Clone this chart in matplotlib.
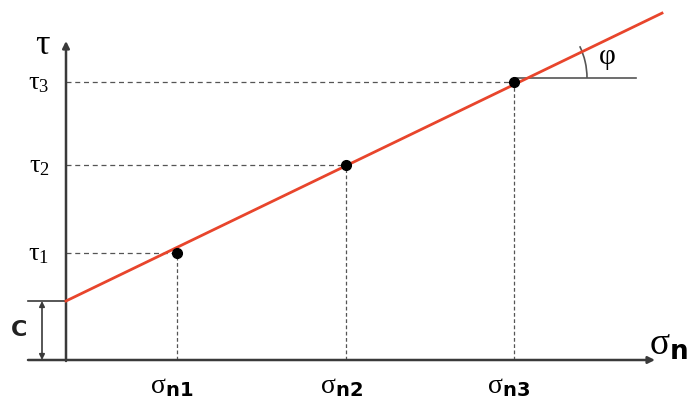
import numpy as np
import matplotlib
matplotlib.use('Agg')
import matplotlib.pyplot as plt
from matplotlib.patches import Arc

# --- Daten --- #
sigma_n = [1.11, 2.80, 4.48]        # Normalspannungen
tau = [1.07, 1.95, 2.78]            # Scherspannungen
cohesion = 0.59                     # Kohäsion c (Achsenabschnitt)
tan_phi = 0.483                     # Steigung der Bruchgeraden
sigma_end = 5.96                    # Ende der roten Geraden
sigma_labels = [r'$\mathrm{\sigma}_{\mathsf{n1}}$', r'$\mathrm{\sigma}_{\mathsf{n2}}$',
                r'$\mathrm{\sigma}_{\mathsf{n3}}$']
tau_labels = [r'$\mathrm{\tau}_{\mathrm{1}}$', r'$\mathrm{\tau}_{\mathrm{2}}$', r'$\mathrm{\tau}_{\mathrm{3}}$']

plt.rcParams['mathtext.fontset'] = 'custom'
plt.rcParams['mathtext.rm'] = 'Liberation Serif'
plt.rcParams['mathtext.it'] = 'Liberation Serif'
plt.rcParams['mathtext.sf'] = 'DejaVu Sans:bold'

fig = plt.figure(figsize=(6.91, 4.05), dpi=100)
ax = fig.add_axes([0, 0, 1, 1])
ax.set_xlim(-0.66, 6.25)
ax.set_ylim(-0.45, 3.60)
ax.axis('off')

axis_col = '#3a3a3a'
dash_col = '#555555'

# Achsen mit Pfeilen
ax.annotate('', xy=(5.89, 0), xytext=(-0.38, 0),
            arrowprops=dict(arrowstyle='-|>', color=axis_col, lw=1.8, mutation_scale=10, shrinkA=0, shrinkB=0))
ax.annotate('', xy=(0, 3.19), xytext=(0, -0.01),
            arrowprops=dict(arrowstyle='-|>', color=axis_col, lw=1.8, mutation_scale=10, shrinkA=0, shrinkB=0))

# Hilfslinien gestrichelt
for s, t in zip(sigma_n, tau):
    ax.plot([0, s], [t, t], '--', color=dash_col, lw=0.9, dashes=(4, 3))
    ax.plot([s, s], [0, t], '--', color=dash_col, lw=0.9, dashes=(3, 2))

# Bruchgerade
x_line = np.array([0, sigma_end])
ax.plot(x_line, cohesion + tan_phi * x_line, color='#e8452c', lw=2.0, zorder=3)

# Messpunkte
ax.plot(sigma_n, tau, 'o', color='black', markersize=7, zorder=4)

# Winkel phi
ax.plot([sigma_n[2], sigma_n[2] + 1.22], [tau[2] + 0.04, tau[2] + 0.04], color='#555555', lw=1.2)
phi_deg = np.degrees(np.arctan(tan_phi))
ax.add_patch(Arc((sigma_n[2], tau[2] + 0.04), 1.46, 1.46, theta1=0, theta2=phi_deg,
                 color='#555555', lw=1.2))
ax.text(sigma_n[2] + 0.93, tau[2] + 0.25, 'φ', fontsize=21, family='Liberation Serif',
        ha='center', va='center')

# Kohäsion c
ax.plot([-0.38, 0], [cohesion, cohesion], color=axis_col, lw=1.2)
ax.annotate('', xy=(-0.24, cohesion), xytext=(-0.24, 0),
            arrowprops=dict(arrowstyle='<|-|>', color=axis_col, lw=1.2, mutation_scale=8, shrinkA=0, shrinkB=0))
ax.text(-0.47, 0.30, 'C', fontsize=16, fontweight='bold', family='DejaVu Sans',
        ha='center', va='center', color='#222222')

# Beschriftungen
for t, lab in zip(tau, tau_labels):
    ax.text(-0.27, t, lab, fontsize=19, ha='center', va='center')
for s, lab in zip(sigma_n, sigma_labels):
    ax.text(s - 0.05, -0.25, lab, fontsize=20, ha='center', va='center')
ax.text(-0.24, 3.15, 'τ', fontsize=26, family='Liberation Serif', ha='center', va='center')
ax.text(5.83, 0.15, r'$\mathrm{\sigma}_{\mathsf{n}}$', fontsize=27, ha='left', va='center')

fig.savefig('out.png', dpi=100)
